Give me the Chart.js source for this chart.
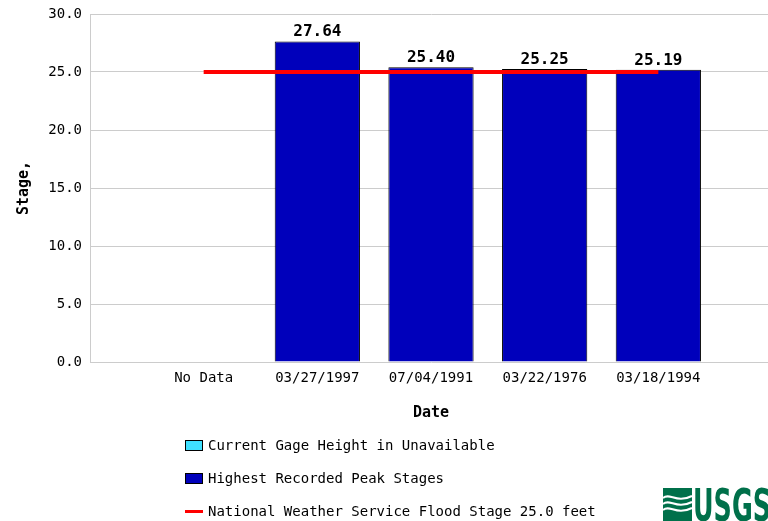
<!DOCTYPE html>
<html>
<head>
<meta charset="utf-8">
<script src="https://cdn.jsdelivr.net/npm/chart.js@4"></script>
<style>
  html, body { margin: 0; padding: 0; background: #fff; overflow: hidden; }
  #wrap { position: relative; width: 772px; height: 521px; }
  .leg { position: absolute; left: 185px; font: 14px "DejaVu Sans Mono", monospace; color: #000; white-space: nowrap; }
  .leg .box { display: inline-block; width: 16px; height: 9px; border: 1px solid #000; vertical-align: middle; margin-right: 5px; position: relative; top: -1px; }
  .leg .ln { display: inline-block; width: 18px; height: 3px; background: #ff0000; vertical-align: middle; margin-right: 5px; position: relative; top: -1px; }
  #logo { position: absolute; left: 662px; top: 486px; }
</style>
</head>
<body>
<div id="wrap">
  <canvas id="myChart" width="772" height="521"></canvas>
  <div class="leg" style="top:437px"><span class="box" style="background:#3fe0ff"></span>Current Gage Height in Unavailable</div>
  <div class="leg" style="top:470px"><span class="box" style="background:#0000bb"></span>Highest Recorded Peak Stages</div>
  <div class="leg" style="top:503px"><span class="ln"></span>National Weather Service Flood Stage 25.0 feet</div>
  <svg id="logo" width="110" height="35" viewBox="0 0 110 35">
    <rect x="1" y="2" width="29" height="33" fill="#00704a"/>
    <path d="M1 12 C8 6 14 18 30 10 M1 18 C8 12 14 24 30 16 M1 24 C8 18 14 30 30 22" stroke="#fff" stroke-width="2" fill="none"/>
    <text x="31" y="35" font-family="Liberation Sans Narrow, DejaVu Sans Condensed, sans-serif" font-weight="bold" font-size="45" fill="#00704a" textLength="78" lengthAdjust="spacingAndGlyphs">USGS</text>
  </svg>
</div>
<script>
const categories = ["No Data", "03/27/1997", "07/04/1991", "03/22/1976", "03/18/1994"];
const peakStages = [null, 27.64, 25.40, 25.25, 25.19];
const floodStage = 25.0;
const yTicks = [0, 5, 10, 15, 20, 25, 30];

// blank slots at both ends give the half-category margins of the original
const labels = [""].concat(categories, [""]);
const barData = [null].concat(peakStages, [null]);
const lineData = [null].concat(categories.map(function () { return floodStage; }), [null]);

const monoFont = "'DejaVu Sans Mono', monospace";

const valueLabels = {
  id: "valueLabels",
  afterDatasetsDraw(chart) {
    const ctx = chart.ctx;
    const meta = chart.getDatasetMeta(0);
    ctx.save();
    ctx.font = "bold 16px " + monoFont;
    ctx.fillStyle = "#000";
    ctx.textAlign = "center";
    ctx.textBaseline = "alphabetic";
    meta.data.forEach(function (bar, i) {
      const v = barData[i];
      if (v === null) return;
      ctx.fillText(v.toFixed(2), bar.x, bar.y - 5);
    });
    ctx.restore();
  }
};

const config = {
  type: "bar",
  data: {
    labels: labels,
    datasets: [
      {
        type: "bar",
        label: "Highest Recorded Peak Stages",
        data: barData,
        backgroundColor: "#0000bb",
        borderColor: "#000",
        borderWidth: 1,
        borderSkipped: "bottom",
        categoryPercentage: 1,
        barPercentage: 0.75,
        order: 1
      },
      {
        type: "line",
        label: "National Weather Service Flood Stage 25.0 feet",
        data: lineData,
        borderColor: "#ff0000",
        borderWidth: 4,
        pointRadius: 0,
        order: 0
      }
    ]
  },
  options: {
    responsive: false,
    animation: false,
    layout: { padding: { top: 14, bottom: 99, left: 0, right: 0 } },
    plugins: { legend: { display: false }, tooltip: { enabled: false } },
    scales: {
      x: {
        offset: false,
        afterFit(scale) { scale.height = 60; scale.paddingLeft = 0; scale.paddingRight = 0; },
        grid: { display: false, drawTicks: false },
        border: { display: false },
        ticks: { font: { family: monoFont, size: 14 }, color: "#000", padding: 8, maxRotation: 0, autoSkip: false },
        title: { display: true, text: "Date", font: { family: monoFont, size: 15, weight: "bold" }, color: "#000", padding: { top: 17, bottom: 0 } }
      },
      y: {
        min: 0,
        max: 30,
        afterBuildTicks(scale) { scale.ticks = yTicks.map(function (v) { return { value: v }; }); },
        afterFit(scale) { scale.width = 90; scale.paddingTop = 0; scale.paddingBottom = 0; },
        grid: { color: "#cccccc", lineWidth: 1, drawTicks: false },
        border: { color: "#cccccc" },
        ticks: { font: { family: monoFont, size: 14 }, color: "#000", padding: 8, callback: function (v) { return Number(v).toFixed(1); } },
        title: { display: true, text: "Stage,", font: { family: monoFont, size: 15, weight: "bold" }, color: "#000", padding: { top: 15, bottom: 0 } }
      }
    }
  },
  plugins: [valueLabels]
};

const myChart = new Chart(document.getElementById("myChart"), config);
</script>
</body>
</html>
